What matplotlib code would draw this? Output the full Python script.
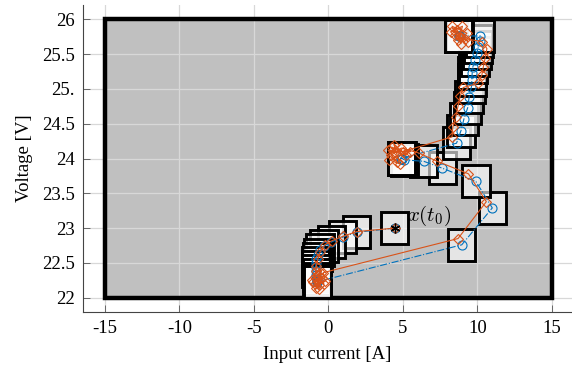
import matplotlib.pyplot as plt
from matplotlib.patches import Rectangle

plt.rcParams['font.family'] = ['Liberation Serif', 'DejaVu Serif']
plt.rcParams['mathtext.fontset'] = 'cm'

# nominal trajectory (box centres), blue
nom_i = [4.45, 1.90, 0.95, 0.20, -0.30, -0.55, -0.70, -0.80, -0.85, -0.85,
         -0.82, -0.80, -0.78, -0.75, -0.74, -0.74,
         8.95, 11.0, 9.9, 7.65, 6.4, 5.1, 4.95, 4.9, 4.9,
         8.6, 8.9, 9.1, 9.35, 9.45, 9.6, 9.63, 9.65, 9.7, 9.85, 9.97, 10.05,
         10.15, 10.2, 8.8, 8.75, 8.75]
nom_v = [23.00, 22.94, 22.87, 22.80, 22.74, 22.68, 22.62, 22.56, 22.50, 22.44,
         22.38, 22.32, 22.27, 22.24, 22.23, 22.23,
         22.76, 23.29, 23.67, 23.86, 23.96, 23.98, 24.00, 24.00, 24.00,
         24.22, 24.40, 24.57, 24.73, 24.89, 25.03, 25.13, 25.23, 25.32, 25.42,
         25.51, 25.60, 25.69, 25.76, 25.76, 25.76, 25.76]

# measured trajectory, orange
meas_i = [4.45, 1.90, 0.95, 0.25, -0.25, -0.55, -0.70, -0.80, -0.85,
          -0.9, -0.6, -1.0, -0.4, -0.8, -0.5, -1.1, -0.3, -0.7, -0.6, -0.9,
          -0.2, -0.35,
          8.7, 10.6, 9.4, 7.3, 6.05,
          4.9, 4.2, 4.6, 4.0, 5.2, 4.4, 4.8, 4.1, 5.5, 4.5, 4.3, 5.0,
          8.3, 8.35, 8.55, 8.7, 8.85, 9.05, 10.05, 10.3, 10.4, 10.52, 10.64,
          10.3, 9.2, 8.6, 8.9, 8.3, 9.3, 8.7, 8.2, 9.0, 8.8, 9.4, 8.5]
meas_v = [23.00, 22.95, 22.88, 22.82, 22.76, 22.66, 22.56, 22.46, 22.38,
          22.30, 22.18, 22.22, 22.28, 22.14, 22.35, 22.26, 22.20, 22.32, 22.12,
          22.20, 22.24, 22.36,
          22.85, 23.38, 23.78, 23.96, 24.08,
          24.15, 24.05, 23.95, 24.12, 24.05, 24.20, 23.92, 23.98, 24.10, 24.10,
          24.16, 24.10,
          24.31, 24.45, 24.60, 24.75, 24.90, 25.02, 25.08, 25.20, 25.32, 25.44,
          25.58, 25.68, 25.72, 25.85, 25.65, 25.90, 25.80, 25.70, 25.82, 25.90,
          25.75, 25.68, 25.78]

x0 = (4.45, 23.0)
xticks = [-15, -10, -5, 0, 5, 10, 15]
yticks = [22, 22.5, 23, 23.5, 24, 24.5, 25, 25.5, 26]
ytick_labels = ['22', '22.5', '23', '23.5', '24', '24.5', '25.', '25.5', '26']

fig = plt.figure(figsize=(5.72, 3.71), dpi=100)
ax = fig.add_axes([83 / 572, 59 / 371, 489 / 572, 307 / 371])

# constraint set: fill below the grid, border above it
ax.add_patch(Rectangle((-15, 22), 30, 4, facecolor='#c0c0c0',
                       edgecolor='none', zorder=0.2))
ax.add_patch(Rectangle((-15, 22), 30, 4, fill=False,
                       edgecolor='black', linewidth=3.2, zorder=1.8))

# tubes around nominal trajectory
hw, hh = 0.92, 0.23
for ci, cv in zip(nom_i, nom_v):
    ax.add_patch(Rectangle((ci - hw, cv - hh), 2 * hw, 2 * hh,
                           facecolor=(1, 1, 1, 0.6), edgecolor='black',
                           linewidth=2.1, zorder=2))

ax.plot(nom_i, nom_v, '-.', color='#0072BD', linewidth=0.8, marker='o',
        markersize=6.5, markerfacecolor='none', markeredgewidth=0.8, zorder=3)
ax.plot(meas_i, meas_v, '-', color='#D95319', linewidth=0.8, marker='D',
        markersize=4.8, markerfacecolor='none', markeredgewidth=0.8, zorder=4)
ax.plot([x0[0]], [x0[1]], marker=(6, 2, 0), color='black', markersize=7,
        markeredgewidth=1.0, linestyle='none', zorder=5)
ax.text(x0[0] + 0.85, x0[1] + 0.18, r'$x(t_0)$', fontsize=15,
        ha='left', va='center', zorder=6)

ax.set_xlim(-16.47, 16.35)
ax.set_ylim(21.795, 26.205)
ax.set_xticks(xticks)
ax.set_xticklabels([str(t) for t in xticks])
ax.set_yticks(yticks)
ax.set_yticklabels(ytick_labels)
ax.set_axisbelow(True)
ax.grid(True, color='#d8d8d8', linewidth=0.9)
ax.tick_params(direction='in', length=5, width=0.6, color='#555555',
               labelsize=13.5, pad=6)
for s in ['top', 'right']:
    ax.spines[s].set_visible(False)
for s in ['left', 'bottom']:
    ax.spines[s].set_color('#444444')
    ax.spines[s].set_linewidth(0.8)

ax.set_xlabel('Input current [A]', fontsize=13.5, labelpad=6)
ax.set_ylabel('Voltage [V]', fontsize=13.5, labelpad=6)

fig.savefig('out.png', dpi=100)
